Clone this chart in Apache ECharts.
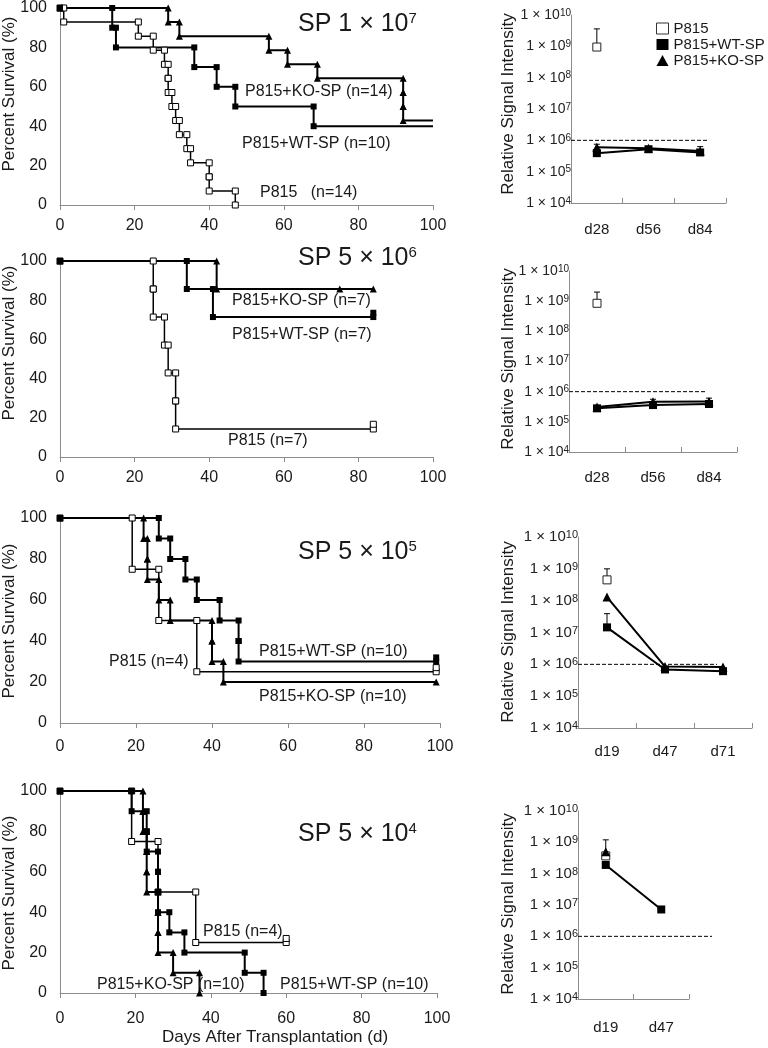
<!DOCTYPE html>
<html><head><meta charset="utf-8">
<script src="https://cdn.jsdelivr.net/npm/echarts@6/dist/echarts.min.js"></script>
<style>html,body{margin:0;padding:0;background:#fff}#c{width:768px;height:1048px}</style>
</head><body><div id="c"></div>
<script>
// ================= DATA =================
// Kaplan-Meier survival: event days and survival (%) after each event
const p1P815Days = [1,21,25,28,29,29,30,31,32,34,35,40,40,47];
const p1P815Surv = [92.9,85.7,78.6,71.4,64.3,57.1,50,42.9,35.7,28.6,21.4,14.3,7.1,0];
const p1P815Cens = [];
const p1P815End  = null;
const p1WTDays = [14,15,36,42,47,68];
const p1WTSurv = [90,80,70,60,50,40];
const p1WTCens = [];
const p1WTEnd  = 100;
const p1KODays = [29,32,56,61,69,92,92,92];
const p1KOSurv = [92.9,85.7,78.6,71.4,64.3,57.1,50,42.9];
const p1KOCens = [];
const p1KOEnd  = 100;

const p2P815Days = [25,25,28,29,31,31];
const p2P815Surv = [85.7,71.4,57.1,42.9,28.6,14.3];
const p2P815Cens = [[84,14.3],[84,16.7]];
const p2WTDays = [34,41];
const p2WTSurv = [85.7,71.4];
const p2WTCens = [[84,71.4],[84,73.6]];
const p2KODays = [42];
const p2KOSurv = [85.7];
const p2KOCens = [[75,85.7],[84,85.7]];

const p3P815Days = [19,26,36];
const p3P815Surv = [75,50,25];
const p3P815Cens = [[99,25],[99,27]];
const p3WTDays = [26,29,33,36,42,47,47];
const p3WTSurv = [90,80,70,60,50,40,30];
const p3WTCens = [[99,30],[99,32]];
const p3KODays = [22,23,23,26,29,40,40,43];
const p3KOSurv = [90,80,70,60,50,40,30,20];
const p3KOCens = [[99,20]];

const p4P815Days = [19,26,36];
const p4P815Surv = [75,50,25];
const p4P815Cens = [[60,25],[60,27]];
const p4WTDays = [19,23,23,26,26,26,29,33,49,54];
const p4WTSurv = [90,80,70,60,50,40,30,20,10,0];
const p4WTCens = [];
const p4KODays = [22,22,23,23,23,26,26,26,30,37];
const p4KOSurv = [90,80,70,60,50,40,30,20,10,0];
const p4KOCens = [];

const kmTitleBase = ['1','5','5','5'];
const kmTitleExp  = ['7','6','5','4'];
const kmLabels = [
  ['P815+KO-SP (n=14)','P815+WT-SP (n=10)','P815   (n=14)'],
  ['P815+KO-SP (n=7)','P815+WT-SP (n=7)','P815 (n=7)'],
  ['P815+WT-SP (n=10)','P815 (n=4)','P815+KO-SP (n=10)'],
  ['P815 (n=4)','P815+KO-SP (n=10)','P815+WT-SP (n=10)']
];

// Relative signal intensity (log scale)
const sigCats1 = ['d28','d56','d84'];
const sigCats2 = ['d28','d56','d84'];
const sigCats3 = ['d19','d47','d71'];
const sigCats4 = ['d19','d47'];
const s1P815 = [9.5e8,null,null];  const s1P815Up = [3.6e9,null,null];
const s1WT   = [3.9e5,5.2e5,4.1e5]; const s1WTUp   = [null,null,null];
const s1KO   = [6.0e5,5.6e5,4.6e5]; const s1KOUp   = [7.5e5,null,6.3e5];
const s2P815 = [8.5e8,null,null];  const s2P815Up = [2.0e9,null,null];
const s2WT   = [2.8e5,3.6e5,3.9e5]; const s2WTUp   = [null,null,null];
const s2KO   = [3.1e5,4.6e5,4.7e5]; const s2KOUp   = [null,5.6e5,6.1e5];
const s3P815 = [4.5e8,null,null];  const s3P815Up = [1.0e9,null,null];
const s3WT   = [1.45e7,6.9e5,6.1e5]; const s3WTUp  = [3.9e7,null,null];
const s3KO   = [1.3e8,8.5e5,8.2e5]; const s3KOUp   = [null,null,null];
const s4P815 = [3.7e8,null];       const s4P815Up = [null,null];
const s4WT   = [1.9e8,7.2e6];       const s4WTUp   = [null,null];
const s4KO   = [5.0e8,null];        const s4KOUp   = [1.2e9,null];
const threshold = 1e6;

// ================= LAYOUT / STYLE =================
const FONT = 'Liberation Sans, Arial, sans-serif';
const TXT = '#1a1a1a';
const AX = '#8c8c8c';
const kmGrids = [
  {left:60, top:7,   width:373, height:198},
  {left:60, top:261, width:373, height:196},
  {left:60, top:518, width:380, height:205},
  {left:60, top:791, width:377, height:202}];
const kmXMargin = [13,13,16,18];
const sigGrids = [
  {left:571, top:15,  width:155, height:188},
  {left:569, top:271, width:168, height:181},
  {left:578, top:537, width:174, height:191},
  {left:578, top:811, width:111, height:188}];
const sigXMargin = [19,18,16,21];
const sigLabelSize = [14,14,15,15];
const dashGrids = [
  {left:571, top:15,  width:136, height:188},
  {left:569, top:271, width:136, height:181},
  {left:578, top:537, width:139, height:191},
  {left:578, top:811, width:134, height:188}];

const kmSets = [
  {P815:[p1P815Days,p1P815Surv,p1P815Cens,p1P815End], WT:[p1WTDays,p1WTSurv,p1WTCens,p1WTEnd], KO:[p1KODays,p1KOSurv,p1KOCens,p1KOEnd]},
  {P815:[p2P815Days,p2P815Surv,p2P815Cens,null], WT:[p2WTDays,p2WTSurv,p2WTCens,null], KO:[p2KODays,p2KOSurv,p2KOCens,null]},
  {P815:[p3P815Days,p3P815Surv,p3P815Cens,null], WT:[p3WTDays,p3WTSurv,p3WTCens,null], KO:[p3KODays,p3KOSurv,p3KOCens,null]},
  {P815:[p4P815Days,p4P815Surv,p4P815Cens,null], WT:[p4WTDays,p4WTSurv,p4WTCens,null], KO:[p4KODays,p4KOSurv,p4KOCens,null]}
];
const sigSets = [
  {cats:sigCats1, P815:[s1P815,s1P815Up], WT:[s1WT,s1WTUp], KO:[s1KO,s1KOUp]},
  {cats:sigCats2, P815:[s2P815,s2P815Up], WT:[s2WT,s2WTUp], KO:[s2KO,s2KOUp]},
  {cats:sigCats3, P815:[s3P815,s3P815Up], WT:[s3WT,s3WTUp], KO:[s3KO,s3KOUp]},
  {cats:sigCats4, P815:[s4P815,s4P815Up], WT:[s4WT,s4WTUp], KO:[s4KO,s4KOUp]}
];

function kmPath(days, surv, cens, end) {
  const pts = [{value:[0,100]}];
  let prev = 100;
  for (let i = 0; i < days.length; i++) {
    pts.push({value:[days[i], prev]});
    pts.push({value:[days[i], surv[i]]});
    prev = surv[i];
  }
  cens.forEach(c => pts.push({value:[c[0], c[1]]}));
  if (end != null) pts.push({value:[end, prev], symbol:'none'});
  return pts;
}

const styles = {
  P815: {symbol:'rect', size:6, item:{color:'#fff', borderColor:'#000', borderWidth:1}, lw:1.5},
  WT:   {symbol:'rect', size:6, item:{color:'#000', borderColor:'#000', borderWidth:0}, lw:2},
  KO:   {symbol:'triangle', size:7, item:{color:'#000', borderColor:'#000', borderWidth:0}, lw:2}
};
const sigStyles = {
  P815: {symbol:'rect', size:8, item:{color:'#fff', borderColor:'#222', borderWidth:1}},
  WT:   {symbol:'rect', size:8, item:{color:'#000'}},
  KO:   {symbol:'triangle', size:9, item:{color:'#000'}}
};
const nameOf = {P815:'P815', WT:'P815+WT-SP', KO:'P815+KO-SP'};

const grid = [], xAxis = [], yAxis = [], series = [], graphic = [];

// KM panels
for (let p = 0; p < 4; p++) {
  grid.push(Object.assign({}, kmGrids[p]));
  xAxis.push({type:'value', gridIndex:p, min:0, max:100, interval:20,
    axisLine:{show:true, lineStyle:{color:AX, width:1}},
    axisTick:{show:true, length:5, lineStyle:{color:AX}},
    splitLine:{show:false},
    axisLabel:{fontFamily:FONT, fontSize:16, color:TXT, margin:kmXMargin[p]}});
  yAxis.push({type:'value', gridIndex:p, min:0, max:100, interval:20,
    axisLine:{show:true, lineStyle:{color:AX, width:1}},
    axisTick:{show:false}, splitLine:{show:false},
    axisLabel:{fontFamily:FONT, fontSize:16, color:TXT, margin:13}});
  ['P815','KO','WT'].forEach(g => {
    const d = kmSets[p][g], st = styles[g];
    series.push({type:'line', xAxisIndex:p, yAxisIndex:p, data:kmPath(d[0],d[1],d[2],d[3]),
      symbol:st.symbol, symbolSize:st.size, showAllSymbol:true, itemStyle:st.item,
      lineStyle:{color:'#000', width:st.lw}, animation:false, silent:true, z:3});
  });
}
// Signal panels
for (let p = 0; p < 4; p++) {
  const gi = 4 + p, S = sigSets[p];
  const fs = sigLabelSize[p];
  grid.push(Object.assign({}, sigGrids[p]));
  xAxis.push({type:'category', gridIndex:gi, data:S.cats, boundaryGap:true,
    axisLine:{show:true, lineStyle:{color:AX}},
    axisTick:{show:true, inside:true, length:5, lineStyle:{color:AX}},
    axisLabel:{fontFamily:FONT, fontSize:15, color:TXT, margin:sigXMargin[p]}});
  yAxis.push({type:'log', logBase:10, gridIndex:gi, min:1e4, max:1e10, splitNumber:6,
    axisLine:{show:true, lineStyle:{color:AX}},
    axisTick:{show:false}, splitLine:{show:false},
    axisLabel:{margin:0, color:'#222', fontFamily:FONT, fontSize:fs,
      formatter: v => '{m|1 × 10}{s|' + Math.round(Math.log10(v)) + '}',
      rich:{m:{fontSize:fs}, s:{fontSize:fs - 4, verticalAlign:'top'}}}});
  ['P815','KO','WT'].forEach(g => {
    const vals = S[g][0], ups = S[g][1];
    const ed = [];
    ups.forEach((u,i) => { if (u != null && vals[i] != null) ed.push([i, vals[i], u]); });
    if (ed.length) series.push({type:'custom', xAxisIndex:gi, yAxisIndex:gi, data:ed, silent:true, z:2,
      animation:false,
      renderItem:(params, api) => {
        const lo = api.coord([api.value(0), api.value(1)]);
        const hi = api.coord([api.value(0), api.value(2)]);
        return {type:'group', children:[
          {type:'line', shape:{x1:lo[0], y1:lo[1], x2:hi[0], y2:hi[1]}, style:{stroke:'#000', lineWidth:1}},
          {type:'line', shape:{x1:hi[0]-3, y1:hi[1], x2:hi[0]+3, y2:hi[1]}, style:{stroke:'#000', lineWidth:1}}
        ]};
      }});
  });
  ['P815','KO','WT'].forEach(g => {
    const st = sigStyles[g];
    series.push({type:'line', name:nameOf[g], xAxisIndex:gi, yAxisIndex:gi, data:S[g][0],
      symbol:st.symbol, symbolSize:st.size, showAllSymbol:true, connectNulls:false, itemStyle:st.item,
      lineStyle:{color:'#000', width:2}, animation:false, silent:true, z:3});
  });
}
// Threshold dashed lines (own hidden grids sharing the log scale extents)
for (let p = 0; p < 4; p++) {
  const gi = 8 + p;
  grid.push(Object.assign({}, dashGrids[p]));
  xAxis.push({type:'value', gridIndex:gi, min:0, max:1, show:false});
  yAxis.push({type:'log', logBase:10, gridIndex:gi, min:1e4, max:1e10, show:false});
  series.push({type:'line', xAxisIndex:gi, yAxisIndex:gi, data:[[0,threshold],[1,threshold]],
    symbol:'none', lineStyle:{color:'#000', width:1, type:[4,2]}, animation:false, silent:true, z:1});
}

// Text annotations
function txt(x, y, text, size, opts) {
  opts = opts || {};
  const el = {type:'text', x:x, y:y, rotation:opts.rot || 0, silent:true, z:10,
    style:{text:text, x:0, y:0, fill:TXT, fontFamily:FONT, fontSize:size,
      align:opts.align || 'left', verticalAlign:'middle'}};
  if (opts.rich) el.style.rich = opts.rich;
  graphic.push(el);
}
const titleY = [24, 258, 552, 834];
for (let p = 0; p < 4; p++) {
  txt(298, titleY[p], '{m|SP ' + kmTitleBase[p] + ' × 10}{s|' + kmTitleExp[p] + '}', 25,
    {rich:{m:{fontFamily:FONT, fontSize:25, fill:TXT, color:TXT}, s:{fontFamily:FONT, fontSize:15, fill:TXT, color:TXT, verticalAlign:'top'}}});
}
const labPos = [
  [[245,92],[242,144],[260,193]],
  [[232,301],[232,335],[228,441]],
  [[259,652],[109,662],[259,697]],
  [[203,932],[97,985],[280,985]]];
for (let p = 0; p < 4; p++) kmLabels[p].forEach((t,i) => txt(labPos[p][i][0], labPos[p][i][1], t, 16));
[94,343,621,893].forEach(y => txt(9, y, 'Percent Survival (%)', 17, {align:'center', rot:Math.PI/2}));
[104,359,632,904].forEach(y => txt(508, y, 'Relative Signal Intensity', 17, {align:'center', rot:Math.PI/2}));
txt(275, 1037, 'Days After Transplantation (d)', 17, {align:'center'});

const option = {
  backgroundColor:'#fff',
  animation:false,
  grid, xAxis, yAxis, series, graphic,
  legend:{show:true, orient:'vertical', left:656, top:21, padding:0, itemGap:1,
    itemWidth:12, itemHeight:11, selectedMode:false,
    textStyle:{fontFamily:FONT, fontSize:15, color:TXT},
    data:[
      {name:'P815', icon:'rect', itemStyle:{color:'#fff', borderColor:'#333', borderWidth:1}},
      {name:'P815+WT-SP', icon:'rect', itemStyle:{color:'#000'}},
      {name:'P815+KO-SP', icon:'triangle', itemStyle:{color:'#000'}}]}
};
const chart = echarts.init(document.getElementById('c'), null, {renderer:'canvas'});
chart.setOption(option);
</script></body></html>
